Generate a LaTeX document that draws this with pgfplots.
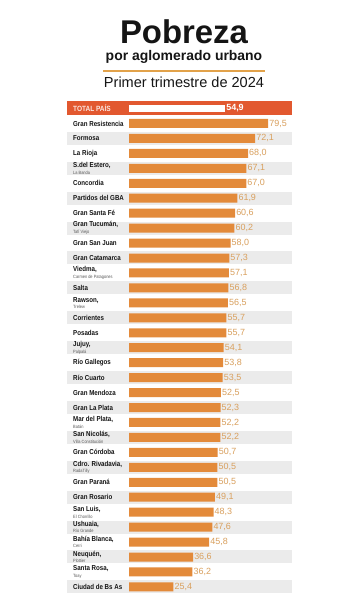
\documentclass[border=0pt]{standalone}
\usepackage{fontspec}
\setmainfont{Liberation Sans}
\newfontfamily\condf[FakeStretch=0.86]{Liberation Sans}
\usepackage{pgfplots}
\pgfplotsset{compat=1.18}
\definecolor{barc}{HTML}{E38A3A}
\definecolor{totc}{HTML}{E2582F}
\definecolor{valc}{HTML}{D9A05E}
\definecolor{bandc}{HTML}{EBEBEB}
\definecolor{linec}{HTML}{E2A24A}
\definecolor{titc}{HTML}{151515}
\newcommand\lab[2]{\node[anchor=west,inner sep=0,font=\condf\bfseries\fontsize{7.2}{8}\selectfont,text=titc] at (73,{108.5+14.95*(#1)}) {#2};}
\newcommand\labb[3]{\node[anchor=west,inner sep=0,align=left,font=\condf\bfseries\fontsize{7.2}{6.6}\selectfont,text=titc] at (73,{108.5+14.95*(#1)}) {#2\\{\mdseries\fontsize{4.6}{5}\selectfont\color{black!65}#3}};}
\begin{document}
\begin{tikzpicture}
\begin{scope}[x=1bp,y=-1bp,yshift=600bp]
\fill[white] (0,0) rectangle (360,600);
\foreach \i in {2,4,...,32} \fill[bandc] (67,{108.5+14.95*\i-6.5}) rectangle (292,{108.5+14.95*\i+6.5});
\fill[totc] (67,101.5) rectangle (292,115.5);
\end{scope}
\begin{axis}[at={(0,0)}, anchor=south west, scale only axis, width=360bp, height=600bp,
  xmin=-73.714, xmax=132, ymin=-7.2575, ymax=32.876, y dir=reverse,
  axis lines=none, clip=false]
\addplot[xbar, bar width=9bp, bar shift=0pt, fill=barc, draw=none,
  nodes near coords, point meta=explicit symbolic,
  every node near coord/.append style={anchor=west, inner sep=1bp, font=\fontsize{9}{9}\selectfont, text=valc}]
  table[x=v, y=r, meta=l] {
r v l
1 79.5 79,5
2 72.1 72,1
3 68.0 68,0
4 67.1 67,1
5 67.0 67,0
6 61.9 61,9
7 60.6 60,6
8 60.2 60,2
9 58.0 58,0
10 57.3 57,3
11 57.1 57,1
12 56.8 56,8
13 56.5 56,5
14 55.7 55,7
15 55.7 55,7
16 54.1 54,1
17 53.8 53,8
18 53.5 53,5
19 52.5 52,5
20 52.3 52,3
21 52.2 52,2
22 52.2 52,2
23 50.7 50,7
24 50.5 50,5
25 50.5 50,5
26 49.1 49,1
27 48.3 48,3
28 47.6 47,6
29 45.8 45,8
30 36.6 36,6
31 36.2 36,2
32 25.4 25,4
};
\addplot[xbar, bar width=7bp, bar shift=0pt, fill=white, draw=none,
  nodes near coords, point meta=explicit symbolic,
  every node near coord/.append style={anchor=west, inner sep=1bp, font=\bfseries\fontsize{9}{9}\selectfont, text=white}]
  table[x=v, y=r, meta=l] {
r v l
0 54.9 54,9
};
\end{axis}
\begin{scope}[x=1bp,y=-1bp,yshift=600bp]
\node[anchor=base, inner sep=0, font=\bfseries\fontsize{33}{33}\selectfont, text=titc] at (184,44) {Pobreza};
\node[anchor=base, inner sep=0, font=\bfseries\fontsize{14}{15}\selectfont, text=titc] at (184,60.5) {por aglomerado urbano};
\draw[linec, line width=2bp] (103,71) -- (265,71);
\node[anchor=base, inner sep=0, font=\fontsize{14.6}{15}\selectfont, text=titc] at (184,87.3) {Primer trimestre de 2024};
\node[anchor=west,inner sep=0,font=\condf\bfseries\fontsize{7.6}{8}\selectfont,text=white!85!totc] at (73,108.5) {TOTAL PAÍS};
\lab{1}{Gran Resistencia}
\lab{2}{Formosa}
\lab{3}{La Rioja}
\labb{4}{S.del Estero,}{La Banda}
\lab{5}{Concordia}
\lab{6}{Partidos del GBA}
\lab{7}{Gran Santa Fé}
\labb{8}{Gran Tucumán,}{Tafí Viejo}
\lab{9}{Gran San Juan}
\lab{10}{Gran Catamarca}
\labb{11}{Viedma,}{Carmen de Patagones}
\lab{12}{Salta}
\labb{13}{Rawson,}{Trelew}
\lab{14}{Corrientes}
\lab{15}{Posadas}
\labb{16}{Jujuy,}{Palpalá}
\lab{17}{Río Gallegos}
\lab{18}{Río Cuarto}
\lab{19}{Gran Mendoza}
\lab{20}{Gran La Plata}
\labb{21}{Mar del Plata,}{Batán}
\labb{22}{San Nicolás,}{Villa Constitución}
\lab{23}{Gran Córdoba}
\labb{24}{Cdro. Rivadavia,}{RadaTilly}
\lab{25}{Gran Paraná}
\lab{26}{Gran Rosario}
\labb{27}{San Luis,}{El Chorrillo}
\labb{28}{Ushuaia,}{Río Grande}
\labb{29}{Bahía Blanca,}{Cerri}
\labb{30}{Neuquén,}{Plottier}
\labb{31}{Santa Rosa,}{Toay}
\lab{32}{Ciudad de Bs As}
\end{scope}
\end{tikzpicture}
\end{document}
